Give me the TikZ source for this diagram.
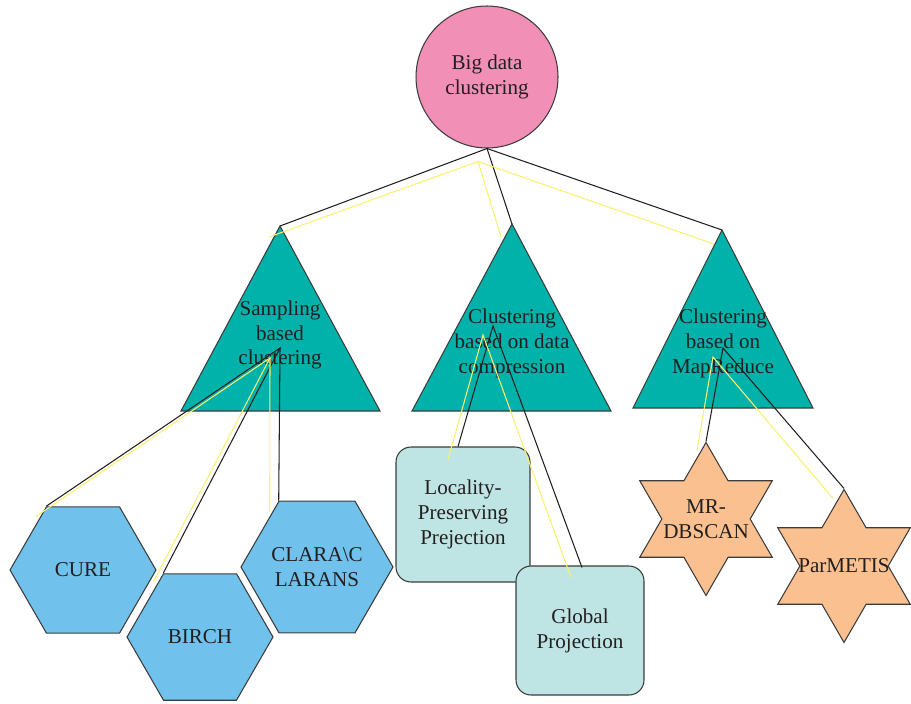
\documentclass[tikz,border=0pt]{standalone}
\usepackage{fontspec}
\setmainfont{Liberation Serif}
\usetikzlibrary{shapes.geometric}
\definecolor{rootpink}{RGB}{242,143,182}
\definecolor{tealtri}{RGB}{0,178,169}
\definecolor{hexblue}{RGB}{112,193,236}
\definecolor{boxteal}{RGB}{190,228,228}
\definecolor{starorange}{RGB}{250,192,144}
\definecolor{edgegray}{RGB}{60,60,60}
\definecolor{txtgray}{RGB}{35,31,32}
\definecolor{lineyellow}{RGB}{250,240,110}
\begin{document}
\begin{tikzpicture}[
  x=0.02cm, y=-0.02cm,
  font=\fontsize{12}{14.2}\selectfont, text=txtgray,
  root/.style={draw=edgegray, circle, fill=rootpink, align=center,
               inner sep=0pt, minimum size=2.84cm, line width=0.6pt},
  tri/.style={draw=edgegray, fill=tealtri, line width=0.6pt},
  trilab/.style={align=center, inner sep=0pt},
  hexa/.style={draw=edgegray, fill=hexblue, regular polygon, regular polygon sides=6,
               align=center, inner sep=0pt, minimum size=2.92cm, line width=0.6pt},
  rbox/.style={draw=edgegray, fill=boxteal, rounded corners=0.3cm, align=center,
               inner sep=0pt, line width=0.6pt},
  stn/.style={draw=edgegray, fill=starorange, star, star points=6, star point ratio=1.732,
              inner sep=0pt, minimum size=3.06cm, line width=0.6pt},
  lnk/.style={txtgray, line width=0.6pt},
  glow/.style={lineyellow, line width=0.6pt}
]
  \useasboundingbox (0,0) rectangle (911,703);
  %% --- Second level : triangles ---
  \coordinate (sTop) at (280,226);
  \filldraw[tri] (sTop) -- (181,411) -- (380,411) -- cycle;
  \node[trilab] (samp) at (280,335) {Sampling\\based\\clustering};
  \coordinate (cTop) at (512,224);
  \filldraw[tri] (cTop) -- (412,411) -- (611,411) -- cycle;
  \node[trilab] (comp) at (512,343) {Clustering\\based on data\\compression};
  \coordinate (mTop) at (722,230);
  \filldraw[tri] (mTop) -- (633,408) -- (813,408) -- cycle;
  \node[trilab] (mapr) at (723,343) {Clustering\\based on\\MapReduce};
  %% --- Root ---
  \node[root] (big) at (487,77) {Big data\\clustering};
  %% --- Leaves ---
  \node[hexa] (cure) at (83,570) {CURE};
  \node[hexa] (birch) at (200,637) {BIRCH};
  \node[hexa, minimum size=3.04cm] (clara) at (317,567) {CLARA\textbackslash C\\LARANS};
  \node[rbox, minimum width=2.68cm, minimum height=2.70cm] (lpp) at (463,514.5)
    {Locality-\\Preserving\\Prejection};
  \node[rbox, minimum width=2.56cm, minimum height=2.58cm] (gp) at (580,630.5)
    {Global\\Projection};
  \node[stn, label={[align=center]center:MR-\\DBSCAN}] (mrdb) at (706,519) {};
  \node[stn, label={[align=center]center:ParMETIS}] (parm) at (844,566) {};
  %% --- Hubs inside the triangles ---
  \coordinate (sHub) at (280,348);  \coordinate (sHubY) at (270,358);
  \coordinate (cHub) at (493,326);  \coordinate (cHubY) at (483,335);
  \coordinate (mHub) at (723,348);  \coordinate (mHubY) at (713,357);
  %% --- Links ---
  \draw[lnk] (sTop) -- (big.south) -- (cTop);
  \draw[lnk] (big.south) -- (mTop);
  \draw[glow] ([shift={(-11,11)}]sTop) -- ([shift={(-9,13)}]big.south) -- ([shift={(-11,13)}]cTop);
  \draw[glow] ([shift={(-9,13)}]big.south) -- ([shift={(-8,14)}]mTop);
  \draw[lnk] (cure.corner 2) -- (sHub) -- (clara.corner 2);
  \draw[lnk] (sHub) -- (birch.corner 2);
  \draw[glow] ([shift={(-10,10)}]cure.corner 2) -- (sHubY) -- ([shift={(-9,11)}]clara.corner 2);
  \draw[glow] (sHubY) -- ([shift={(-10,9)}]birch.corner 2);
  \draw[lnk] ([xshift=-0.1cm]lpp.north) -- (cHub) -- ([shift={(2,2)}]gp.north);
  \draw[glow] ([shift={(-15,13)}]lpp.north) -- (cHubY) -- ([shift={(-9,12)}]gp.north);
  \draw[lnk] (mrdb.outer point 1) -- (mHub) -- (parm.outer point 1);
  \draw[glow] ([shift={(-9,9)}]mrdb.outer point 1) -- (mHubY) -- ([shift={(-11,10)}]parm.outer point 1);
\end{tikzpicture}
\end{document}
